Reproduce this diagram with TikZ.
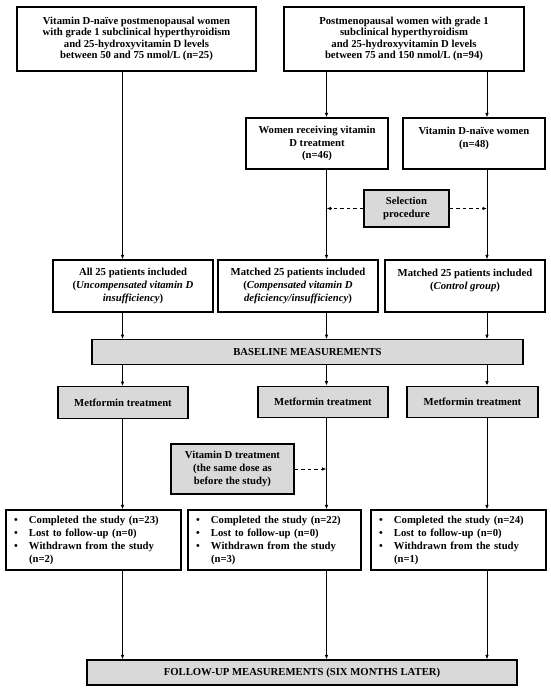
\documentclass[tikz,border=0pt]{standalone}
\usepackage{fontspec}
\setmainfont{Liberation Serif}
\usetikzlibrary{arrows.meta}
\definecolor{boxgray}{RGB}{217,217,217}
\tikzset{
  box/.style={draw, line width=1.1pt, align=center, inner sep=1pt,
    font=\fontsize{10.7}{13}\selectfont\bfseries},
  greybox/.style={box, fill=boxgray},
  listbox/.style={box, align=left, inner xsep=8pt, text width=#1},
  flow/.style={line width=1pt, -{Latex[length=4.5pt,width=3.5pt]}},
  dflow/.style={flow, dash pattern=on 3.5pt off 3pt}
}
\newcommand{\itm}{\makebox[15pt][l]{\textbullet}}

\begin{document}
\begin{tikzpicture}[x=1pt,y=-1pt]
\useasboundingbox (0,0) rectangle (550,689);

% columns of the three groups
\coordinate (colA) at (122.5,0);
\coordinate (colB) at (326.5,0);
\coordinate (colC) at (487,0);

% screening
\node [box, minimum width=239, minimum height=64, font=\fontsize{10.7}{11.4}\selectfont\bfseries] (top1) at (136.5,39)
  {Vitamin D-naïve postmenopausal women\\ with grade 1 subclinical hyperthyroidism\\ and 25-hydroxyvitamin D levels\\ between 50 and 75 nmol/L (n=25)};
\node [box, minimum width=240, minimum height=64, font=\fontsize{10.7}{11.4}\selectfont\bfseries] (top2) at (404,39)
  {Postmenopausal women with grade 1\\ subclinical hyperthyroidism\\ and 25-hydroxyvitamin D levels\\ between 75 and 150 nmol/L (n=94)};
\node [box, minimum width=142, minimum height=51, font=\fontsize{10.7}{12.4}\selectfont\bfseries] (recv) at (317,143.5)
  {Women receiving vitamin\\ D treatment\\ (n=46)};
\node [box, minimum width=142, minimum height=51, font=\fontsize{10.7}{12.4}\selectfont\bfseries] (naive) at (474,143.5)
  {Vitamin D-naïve women\\ (n=48)\\ \mbox{}};
\node [greybox, minimum width=85, minimum height=37] (select) at (406.5,208.5)
  {Selection\\ procedure};

% included groups
\node [box, minimum width=160, minimum height=52] (incA) at (133,286)
  {All 25 patients included\\ (\textit{Uncompensated vitamin D}\\ \textit{insufficiency})};
\node [box, minimum width=160, minimum height=52] (incB) at (298,286)
  {Matched 25 patients included\\ (\textit{Compensated vitamin D}\\ \textit{deficiency/insufficiency})};
\node [box, minimum width=160, minimum height=52] (incC) at (465,286)
  {Matched 25 patients included\\ (\textit{Control group})\\ \mbox{}};

\node [greybox, minimum width=431, minimum height=24.5] (base) at (307.5,352) {BASELINE MEASUREMENTS};

% treatment
\node [greybox, minimum width=130, minimum height=31.5] (metA) at (123,402.5) {Metformin treatment};
\node [greybox, minimum width=130, minimum height=31.5] (metB) at (323,402) {Metformin treatment};
\node [greybox, minimum width=131, minimum height=31.5] (metC) at (472.5,402) {Metformin treatment};
\node [greybox, minimum width=123, minimum height=50] (vitD) at (232.5,469)
  {Vitamin D treatment\\ (the same dose as\\ before the study)};

% outcomes
\node [listbox=159pt, minimum height=60] (resA) at (93.5,540)
  {\itm Completed the study (n=23)\\ \itm Lost to follow-up (n=0)\\ \itm Withdrawn from the study\\ \hspace*{15pt}(n=2)};
\node [listbox=157pt, minimum height=60] (resB) at (274.5,540)
  {\itm Completed the study (n=22)\\ \itm Lost to follow-up (n=0)\\ \itm Withdrawn from the study\\ \hspace*{15pt}(n=3)};
\node [listbox=159pt, minimum height=60] (resC) at (458.5,540)
  {\itm Completed the study (n=24)\\ \itm Lost to follow-up (n=0)\\ \itm Withdrawn from the study\\ \hspace*{15pt}(n=1)};

\node [greybox, minimum width=430, minimum height=25] (follow) at (302,672.5) {FOLLOW-UP MEASUREMENTS (SIX MONTHS LATER)};

% connectors
\draw [flow] (top1.south -| colA) -- (incA.north -| colA);
\draw [flow] (top2.south -| colB) -- (recv.north -| colB);
\draw [flow] (top2.south -| colC) -- (naive.north -| colC);
\draw [flow] (recv.south -| colB) -- (incB.north -| colB);
\draw [flow] (naive.south -| colC) -- (incC.north -| colC);
\draw [dflow] (select.west) -- (select.west -| colB);
\draw [dflow] (select.east) -- (select.east -| colC);
\draw [dflow] (vitD.east) -- (vitD.east -| colB);
\foreach \c in {A,B,C} {
  \draw [flow] (inc\c.south -| col\c) -- (base.north -| col\c);
  \draw [flow] (base.south -| col\c) -- (met\c.north -| col\c);
  \draw [flow] (met\c.south -| col\c) -- (res\c.north -| col\c);
  \draw [flow] (res\c.south -| col\c) -- (follow.north -| col\c);
}

\end{tikzpicture}
\end{document}
